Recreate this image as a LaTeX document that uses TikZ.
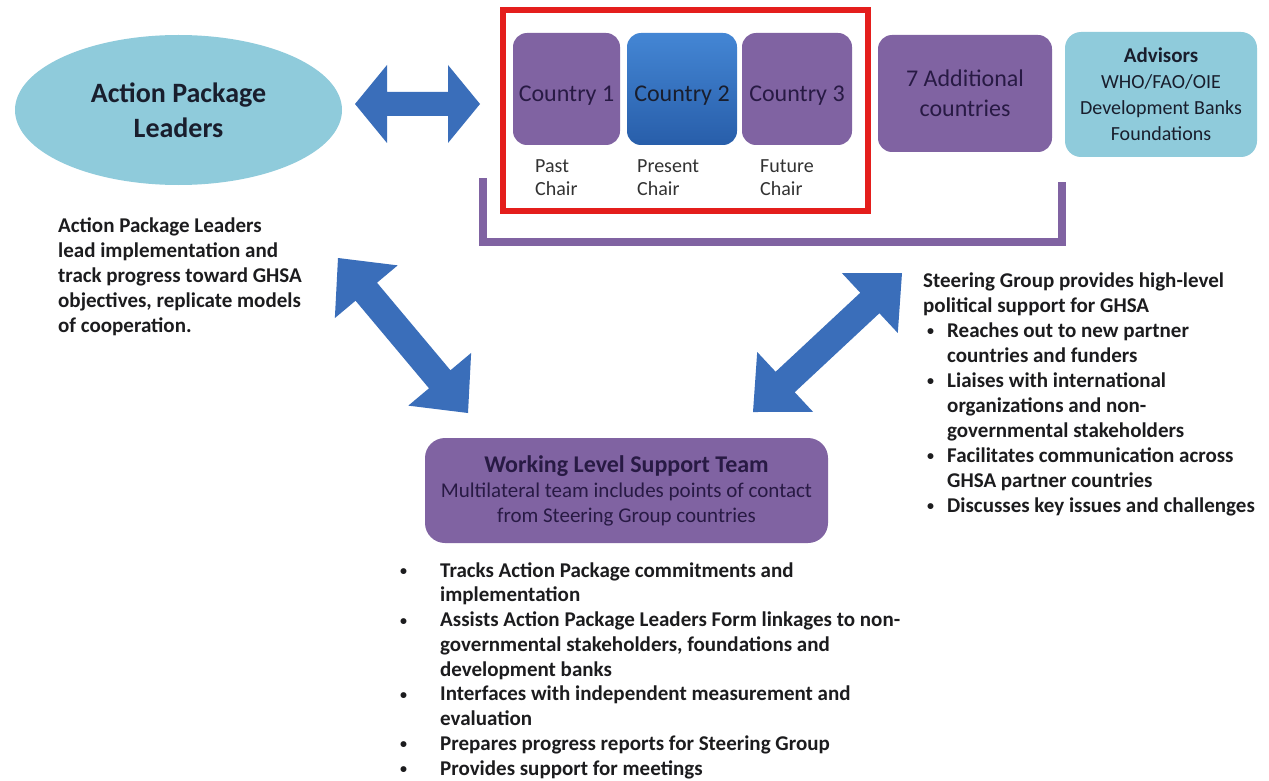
\documentclass[tikz,border=0pt]{standalone}
\usepackage{fontspec}
\setmainfont{Carlito}
\usetikzlibrary{calc,shapes.geometric}
\definecolor{lblue}{RGB}{143,203,219}
\definecolor{purp}{RGB}{128,99,162}
\definecolor{abl}{RGB}{58,110,186}
\definecolor{redf}{RGB}{228,30,28}
\definecolor{ink}{RGB}{28,28,30}
\definecolor{boxink}{RGB}{40,26,68}
\definecolor{ellink}{RGB}{25,30,45}
\definecolor{lblink}{RGB}{50,50,50}
\definecolor{ctop}{RGB}{68,134,212}
\definecolor{cbot}{RGB}{40,94,170}
\newcommand\fatarrow[5]{%
  \path ($(#1)!#5!(#2)$) coordinate (fa1) ($(#2)!#5!(#1)$) coordinate (fa2);
  \fill[abl] (#1) -- ($(fa1)!#4!90:(#2)$) -- ($(fa1)!#3!90:(#2)$)
    -- ($(fa2)!#3!-90:(#1)$) -- ($(fa2)!#4!-90:(#1)$) -- (#2)
    -- ($(fa2)!#4!90:(#1)$) -- ($(fa2)!#3!90:(#1)$)
    -- ($(fa1)!#3!-90:(#2)$) -- ($(fa1)!#4!-90:(#2)$) -- cycle;}
\newcommand\smallbul{{\fontsize{14}{14}\selectfont\raisebox{1.5pt}{\textbullet}}}
\begin{document}
\begin{tikzpicture}[x=1pt,y=-1pt,
  pbox/.style={rectangle, rounded corners=14pt, fill=purp, inner sep=0pt, text=boxink, align=center},
  bbox/.style={rectangle, rounded corners=16pt, fill=lblue, inner sep=0pt, text=ellink, align=center},
  ctry/.style={pbox, minimum height=112pt, font=\fontsize{24}{30}\selectfont, text height=26pt, text depth=0pt},
  chairlbl/.style={anchor=base west, inner sep=0pt, text=lblink, font=\fontsize{20}{23}\selectfont},
  desc/.style={anchor=base west, inner sep=0pt, text=ink, font=\bfseries\fontsize{21}{25}\selectfont},
  bracket/.style={draw=purp, line width=8pt}
]
\useasboundingbox (0,0) rectangle (1269,781);
\fill[white] (0,0) rectangle (1269,781);

% Action Package Leaders ellipse
\node[ellipse, fill=lblue, inner sep=0pt, minimum width=327pt, minimum height=150pt,
      text=ellink, align=center, font=\bfseries\fontsize{28}{35}\selectfont] (apl) at (178.5,110) {Action Package\\Leaders};

% red frame around chairs
\node[draw=redf, line width=6pt, minimum width=365pt, minimum height=201pt, inner sep=0pt] (chairs) at (685.5,110.5) {};

% countries
\node[ctry, minimum width=107pt] (c1) at (566.5,89) {Country 1};
\node[ctry, minimum width=110pt, fill=none, top color=ctop, bottom color=cbot, text=ellink] (c2) at (682,89) {Country 2};
\node[ctry, minimum width=110pt] (c3) at (797,89) {Country 3};

\node[chairlbl] (l1) at (535,172) {\begin{tabular}[t]{@{}l@{}}Past\\Chair\end{tabular}};
\node[chairlbl] (l2) at (637,172) {\begin{tabular}[t]{@{}l@{}}Present\\Chair\end{tabular}};
\node[chairlbl] (l3) at (760,172) {\begin{tabular}[t]{@{}l@{}}Future\\Chair\end{tabular}};

\node[pbox, minimum width=174pt, minimum height=117pt, font=\fontsize{24}{30}\selectfont] (add) at (965,93.5) {7 Additional\\countries};
\node[bbox, minimum width=192pt, minimum height=125pt, font=\fontsize{20}{26}\selectfont] (adv) at (1161,94.5)
  {{\bfseries\fontsize{21}{26}\selectfont Advisors}\\WHO/FAO/OIE\\Development Banks\\Foundations};

% bracket under steering group
\coordinate (brA) at (483,178);
\coordinate (brB) at (483,242);
\coordinate (brC) at (1062,242);
\coordinate (brD) at (1062,182);
\draw[bracket] (brA) -- (brB) -- (brC) -- (brD);

% working level support team
\node[pbox, rounded corners=20pt, minimum width=403pt, minimum height=105pt, text=boxink, font=\fontsize{21}{25}\selectfont] (wl) at (626.5,490.5)
  {{\bfseries\fontsize{24}{25}\selectfont Working Level Support Team}\\Multilateral team includes points of contact\\from Steering Group countries};

% description texts
\node[desc] (apltext) at (58,232) {\begin{tabular}[t]{@{}l@{}}
Action Package Leaders\\
lead implementation and\\
track progress toward GHSA\\
objectives, replicate models\\
of cooperation.\end{tabular}};

\node[desc] (sgtext) at (923,287) {\begin{tabular}[t]{@{}l@{}l@{}}
\multicolumn{2}{@{}l@{}}{Steering Group provides high-level}\\
\multicolumn{2}{@{}l@{}}{political support for GHSA}\\
\makebox[24pt][l]{\hspace*{4pt}\smallbul} & Reaches out to new partner\\
 & countries and funders\\
\makebox[24pt][l]{\hspace*{4pt}\smallbul} & Liaises with international\\
 & organizations and non-\\
 & governmental stakeholders\\
\makebox[24pt][l]{\hspace*{4pt}\smallbul} & Facilitates communication across\\
 & GHSA partner countries\\
\makebox[24pt][l]{\hspace*{4pt}\smallbul} & Discusses key issues and challenges
\end{tabular}};

\node[desc, font=\bfseries\fontsize{21}{24.75}\selectfont] (wltext) at (400,577) {\begin{tabular}[t]{@{}l@{}l@{}}
\makebox[40pt][l]{\smallbul} & Tracks Action Package commitments and\\
 & implementation\\
\makebox[40pt][l]{\smallbul} & Assists Action Package Leaders Form linkages to non-\\
 & governmental stakeholders, foundations and\\
 & development banks\\
\makebox[40pt][l]{\smallbul} & Interfaces with independent measurement and\\
 & evaluation\\
\makebox[40pt][l]{\smallbul} & Prepares progress reports for Steering Group\\
\makebox[40pt][l]{\smallbul} & Provides support for meetings
\end{tabular}};

% fat double arrows
\coordinate (hA) at (355,104);
\coordinate (hB) at (480,104);
\fatarrow{hA}{hB}{12pt}{39pt}{32pt}
\coordinate (dA) at (338,258);
\coordinate (dB) at (468,413);
\fatarrow{dA}{dB}{14pt}{41pt}{44pt}
\coordinate (eA) at (902,273);
\coordinate (eB) at (753,412);
\fatarrow{eA}{eB}{14pt}{41pt}{44pt}
\end{tikzpicture}
\end{document}
